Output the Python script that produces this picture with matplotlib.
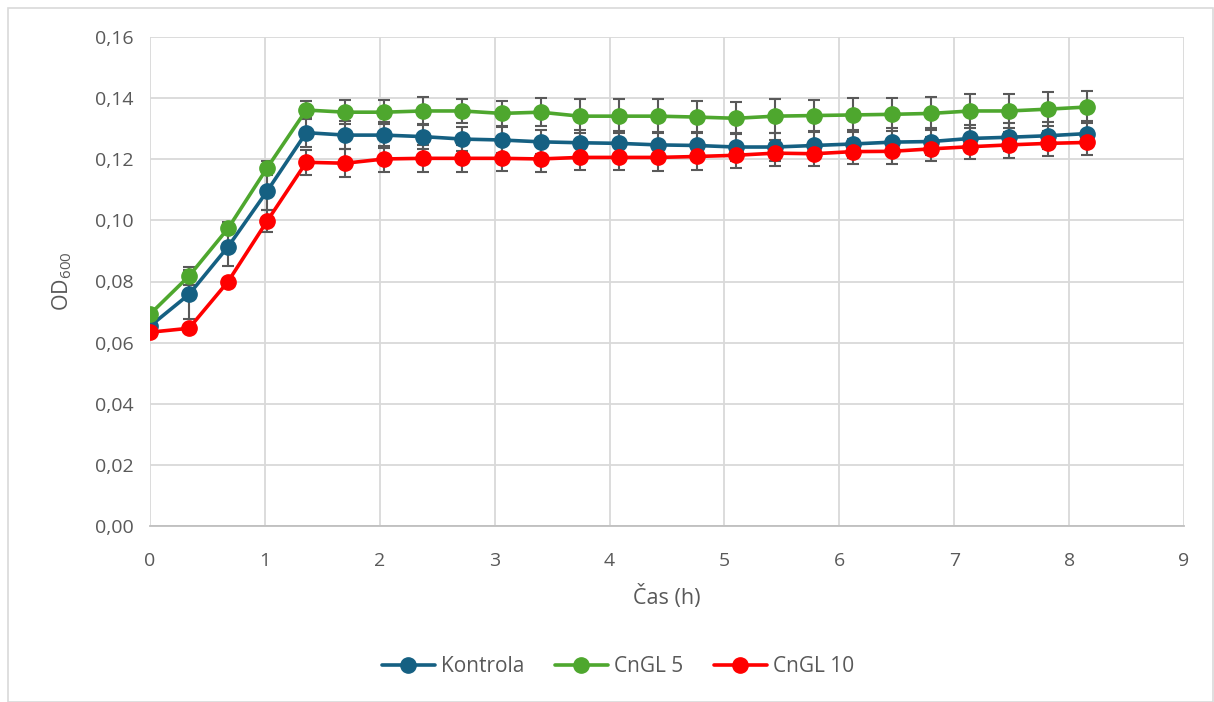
import matplotlib
matplotlib.use("Agg")
import matplotlib.pyplot as plt
from matplotlib.patches import Rectangle

time_h = [0.00, 0.34, 0.68, 1.02, 1.36, 1.70, 2.04, 2.38, 2.72, 3.06, 3.40, 3.74,
          4.08, 4.42, 4.76, 5.10, 5.44, 5.78, 6.12, 6.46, 6.80, 7.14, 7.48, 7.82, 8.16]

kontrola = [0.0654, 0.0758, 0.0914, 0.1096, 0.1287, 0.1279, 0.1279, 0.1274, 0.1266, 0.1263,
            0.1257, 0.1254, 0.1252, 0.1247, 0.1245, 0.1240, 0.1240, 0.1245, 0.1250, 0.1256,
            0.1258, 0.1268, 0.1272, 0.1277, 0.1284]
kontrola_err = [0.0025, 0.0080, 0.0062, 0.0063, 0.0047, 0.0045, 0.0042, 0.0042, 0.0040, 0.0042,
                0.0040, 0.0042, 0.0042, 0.0043, 0.0043, 0.0045, 0.0045, 0.0045, 0.0045, 0.0045,
                0.0045, 0.0045, 0.0045, 0.0045, 0.0042]

cngl5 = [0.0693, 0.0818, 0.0974, 0.1172, 0.1361, 0.1354, 0.1354, 0.1358, 0.1358, 0.1350,
         0.1354, 0.1341, 0.1341, 0.1341, 0.1338, 0.1334, 0.1341, 0.1343, 0.1345, 0.1347,
         0.1350, 0.1358, 0.1358, 0.1364, 0.1371]
cngl5_err = [0.0012, 0.0030, 0.0020, 0.0022, 0.0030, 0.0040, 0.0040, 0.0045, 0.0040, 0.0042,
             0.0045, 0.0055, 0.0055, 0.0055, 0.0052, 0.0052, 0.0055, 0.0052, 0.0055, 0.0055,
             0.0053, 0.0055, 0.0055, 0.0055, 0.0053]

cngl10 = [0.0634, 0.0647, 0.0800, 0.0998, 0.1190, 0.1187, 0.1201, 0.1203, 0.1203, 0.1203,
          0.1201, 0.1206, 0.1206, 0.1206, 0.1209, 0.1213, 0.1220, 0.1218, 0.1225, 0.1226,
          0.1234, 0.1241, 0.1247, 0.1252, 0.1255]
cngl10_err = [0.0012, 0.0012, 0.0010, 0.0035, 0.0040, 0.0046, 0.0042, 0.0045, 0.0045, 0.0042,
              0.0042, 0.0042, 0.0040, 0.0043, 0.0043, 0.0040, 0.0042, 0.0040, 0.0040, 0.0040,
              0.0040, 0.0040, 0.0043, 0.0040, 0.0040]

series = [("Kontrola", kontrola, kontrola_err, "#156082"),
          ("CnGL 5", cngl5, cngl5_err, "#4EA72E"),
          ("CnGL 10", cngl10, cngl10_err, "#FF0000")]

x_ticks = [0, 1, 2, 3, 4, 5, 6, 7, 8, 9]
y_ticks = [0.00, 0.02, 0.04, 0.06, 0.08, 0.10, 0.12, 0.14, 0.16]

plt.rcParams['font.family'] = ['Open Sans', 'DejaVu Sans']
plt.rcParams['mathtext.default'] = 'regular'

W, H = 1214, 702
fig = plt.figure(figsize=(W / 100, H / 100), dpi=100)
ax = fig.add_axes([150 / W, (H - 526) / H, (1184 - 150) / W, (526 - 37) / H])

tick_col = "#595959"
grid_col = "#D9D9D9"

for name, vals, err, col in series:
    ax.errorbar(time_h, vals, yerr=err, fmt='none', ecolor="#595959",
                elinewidth=1.5, capsize=4.5, capthick=1.5, zorder=2)
for name, vals, err, col in series:
    ax.plot(time_h, vals, color=col, lw=2.6, marker='o', markersize=11,
            label=name, zorder=3, solid_capstyle='round')

ax.set_xlim(0, 9)
ax.set_ylim(0, 0.16)
ax.set_xticks(x_ticks)
ax.set_yticks(y_ticks)
ax.set_xticklabels([str(t) for t in x_ticks])
ax.set_yticklabels([f"{t:.2f}".replace('.', ',') for t in y_ticks])
ax.tick_params(axis='both', length=0, labelsize=14, labelcolor=tick_col)
ax.tick_params(axis='x', pad=19)
ax.tick_params(axis='y', pad=12)
ax.grid(True, color=grid_col, lw=1.3, zorder=0)
ax.set_axisbelow(True)
for s in ['top', 'right', 'left']:
    ax.spines[s].set_visible(False)
ax.spines['bottom'].set_color("#BFBFBF")
ax.spines['bottom'].set_linewidth(1.3)

ax.set_xlabel("Čas (h)", fontsize=15.5, color=tick_col)
ax.set_ylabel("OD$_{600}$", fontsize=15.5, color=tick_col)
ax.xaxis.set_label_coords(0.5, -71 / 489)
ax.yaxis.set_label_coords(-88 / 1034, 0.5)
ax.xaxis.label.set_va('center')
ax.yaxis.label.set_va('center')

leg = fig.legend(loc='center', bbox_to_anchor=(618 / W, (H - 667) / H), ncol=3,
                 frameon=False, fontsize=15, handlelength=2.55, columnspacing=1.45,
                 handletextpad=0.3)
for t in leg.get_texts():
    t.set_color(tick_col)

fig.patches.append(Rectangle((8 / W, 0), (W - 9) / W, (H - 8) / H,
                             transform=fig.transFigure, fill=False,
                             edgecolor="#D9D9D9", lw=1.2))

fig.savefig("out.png", dpi=100, facecolor="white")
